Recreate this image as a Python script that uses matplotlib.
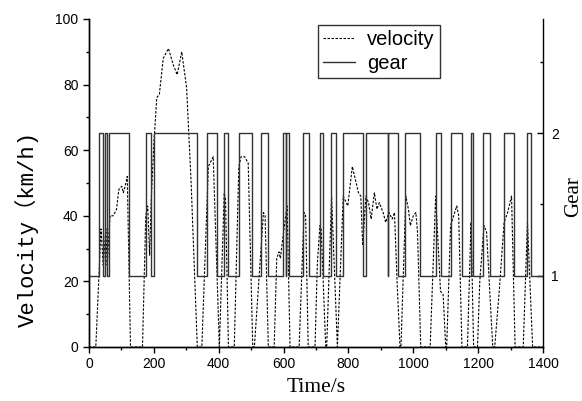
import matplotlib
matplotlib.use('Agg')
import matplotlib.pyplot as plt
from matplotlib.ticker import MultipleLocator, FixedLocator

plt.rcParams['font.family'] = ['Liberation Sans', 'DejaVu Sans']

# velocity trace (s, km/h)
vel_t = [0, 21, 37, 44, 52, 56, 65, 75, 85, 92, 101, 106, 114, 118, 128,
         165, 175, 181, 187, 192, 200, 209, 217, 229, 245, 260, 272, 286, 301, 315, 334,
         348, 368, 383, 402, 417, 421, 430,
         448, 462, 469, 480, 491, 505,
         510, 538, 543, 553,
         571, 579, 586, 590, 600, 611, 620,
         648, 663, 668, 676,
         697, 704, 712, 716, 730,
         733, 748, 766,
         784, 798, 812, 831, 838, 844, 854, 862, 870, 880, 888, 895, 907, 915, 925, 935, 942, 950, 959,
         962, 977, 985, 991, 1000, 1008, 1013, 1023,
         1052, 1069, 1084, 1092, 1100,
         1103, 1115, 1134, 1140, 1150,
         1167, 1178, 1186,
         1198, 1205, 1218, 1226, 1245,
         1251, 1265, 1280, 1291, 1303, 1314,
         1339, 1352, 1368, 1400]
vel_v = [0, 0, 36, 25, 36, 25, 40, 40, 42, 48, 49, 47, 50, 52, 0,
         0, 40, 43, 28, 45, 62, 76, 77, 88, 91, 86, 83, 90, 79, 50, 0,
         0, 55, 58, 0, 47, 45, 0,
         0, 55, 58, 58, 56, 0,
         0, 41, 40, 0,
         0, 27, 29, 27, 35, 43, 0,
         0, 41, 40, 0,
         0, 25, 37, 36, 0,
         0, 46, 0,
         46, 43, 55, 47, 46, 31, 46, 44, 39, 47, 42, 44, 41, 38, 41, 39, 41, 20, 0,
         0, 46, 42, 37, 40, 41, 35, 0,
         0, 46, 17, 16, 0,
         0, 37, 43, 40, 0,
         0, 38, 0,
         0, 20, 37, 35, 0,
         0, 17, 38, 41, 46, 0,
         0, 38, 0, 0]

# gear shift instants (s) and gear engaged from that instant on
gear_t = [0, 32, 44, 49, 56, 62, 124, 176, 190, 199, 332, 365, 396, 417, 428,
          462, 503, 531, 552, 599, 606, 608, 618, 661, 677, 712, 723, 745, 761,
          783, 844, 854, 921, 923, 954, 975, 1020, 1069, 1084, 1115, 1150,
          1178, 1185, 1216, 1237, 1281, 1310, 1350, 1362, 1400]
gear_n = [1, 2, 1, 2, 1, 2, 1, 2, 1, 2, 1, 2, 1, 2, 1,
          2, 1, 2, 1, 2, 1, 2, 1, 2, 1, 2, 1, 2, 1,
          2, 1, 2, 1, 2, 1, 2, 1, 2, 1, 2, 1,
          2, 1, 2, 1, 2, 1, 2, 1, 1]

fig = plt.figure(figsize=(5.82, 4.01), dpi=100)
ax = fig.add_axes([0.1529, 0.1347, 0.7801, 0.818])
ax2 = ax.twinx()

lv, = ax.plot(vel_t, vel_v, color='black', lw=0.8, ls=(0, (2.2, 1.4)), label='velocity')
lg, = ax2.plot(gear_t, gear_n, color='#333333', lw=1.0, drawstyle='steps-post', label='gear')

ax.set_xlim(0, 1400)
ax.set_ylim(0, 100)
ax2.set_ylim(0.5, 2.8)

ax.xaxis.set_major_locator(MultipleLocator(200))
ax.xaxis.set_minor_locator(MultipleLocator(100))
ax.yaxis.set_major_locator(MultipleLocator(20))
ax.yaxis.set_minor_locator(MultipleLocator(10))
ax2.yaxis.set_major_locator(FixedLocator([1, 2]))
ax2.yaxis.set_minor_locator(FixedLocator([1.5, 2.5]))

for a in (ax, ax2):
    a.spines['top'].set_visible(False)
    for s in a.spines.values():
        s.set_linewidth(1.0)
ax.spines['right'].set_visible(False)

ax.tick_params(which='major', direction='out', length=4, width=1, labelsize=10)
ax.tick_params(which='minor', direction='out', length=2.5, width=1)
ax2.tick_params(which='major', direction='in', length=4, width=1, labelsize=10, pad=6)
ax2.tick_params(which='minor', direction='in', length=2.5, width=1)

serif = ['Liberation Serif', 'Noto Sans CJK SC']
mono = ['Liberation Mono', 'Noto Sans CJK SC']
ax.set_xlabel('Time/s', family=serif, fontsize=15.5, labelpad=5)
fig.text(0.047, 0.429, 'Velocity（km/h)', family=mono, fontsize=16,
         rotation=90, ha='center', va='center')
fig.text(0.986, 0.509, 'Gear', family=serif, fontsize=15,
         rotation=90, ha='center', va='center')

leg = ax2.legend(handles=[lv, lg], loc='upper left', bbox_to_anchor=(0.504, 0.982),
                 prop={'family': 'Liberation Sans', 'size': 14.5},
                 frameon=True, fancybox=False, edgecolor='black',
                 handlelength=1.6, handletextpad=0.6, borderpad=0.25, labelspacing=0.25,
                 borderaxespad=0)
leg.get_frame().set_linewidth(1.0)

fig.savefig('out.png', dpi=100)
